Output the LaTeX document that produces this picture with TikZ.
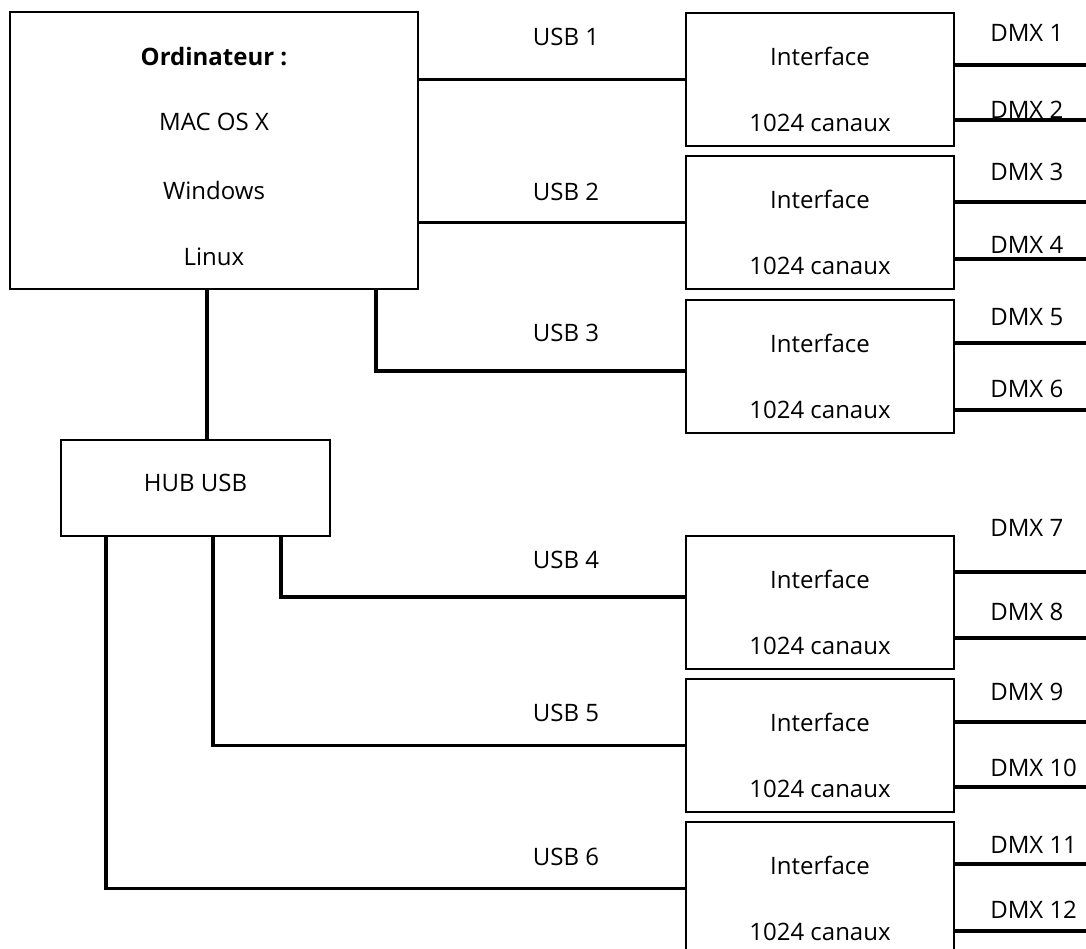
\documentclass[tikz,border=0pt]{standalone}
\usepackage{fontspec}
\setmainfont{Open Sans}
\usetikzlibrary{positioning}
\newcommand\taille{\fontsize{18}{21}\selectfont}

\begin{document}
\begin{tikzpicture}[x=0.75pt,y=-0.75pt,
		boite/.style={draw,line width=1.2pt,inner sep=0pt,minimum width=201pt,minimum height=99.75pt},
		cable/.style={line width=2.6pt},
		texte/.style={font=\taille,inner sep=0pt}]
	\useasboundingbox (0,0) rectangle (1086,949);
	% ordinateur et hub
	\node[boite,minimum width=306pt,minimum height=207.75pt] (ordi) at (214,150.5) {};
	\node[texte,font=\taille\bfseries] (ordi1) at ([yshift=-33.75pt]ordi.north) {Ordinateur :};
	\node[texte] (ordi2) at ([yshift=-83.25pt]ordi.north) {MAC OS X};
	\node[texte] (ordi3) at ([yshift=-134.25pt]ordi.north) {Windows};
	\node[texte] (ordi4) at ([yshift=-184.5pt]ordi.north) {Linux};
	\node[boite,minimum width=201.75pt,minimum height=72pt] (hub) at (195.5,488) {};
	\node[texte] (hubt) at ([yshift=3.75pt]hub.center) {HUB USB};
	% interfaces
	\foreach \n/\y in {1/79.5,2/222.5,3/366.5,4/602.5,5/745.5,6/888.5}{
		\node[boite] (if\n) at (820,\y) {};
		\node[texte] (if\n a) at ([yshift=-33pt]if\n.north) {Interface};
		\node[texte] (if\n b) at ([yshift=-83.25pt]if\n.north) {1024 canaux};
	}
	% liaisons USB
	\coordinate (h0) at ([xshift=8.6pt]hub.north);
	\draw[cable] (h0) -- (h0 |- ordi.south);
	\draw[cable] (ordi.east |- if1.west) -- (if1.west);
	\draw[cable] (ordi.east |- if2.west) -- (if2.west);
	\draw[cable] ([xshift=-32.25pt]ordi.south east) |- ([yshift=-3.4pt]if3.west);
	\draw[cable] ([xshift=165.75pt]hub.south west) |- ([yshift=4.1pt]if4.west);
	\draw[cable] ([xshift=114.75pt]hub.south west) |- (if5.west);
	\draw[cable] ([xshift=34.5pt]hub.south west) |- (if6.west);
	\foreach \n/\y in {1/37,2/192,3/333,4/560,5/713,6/857}
		\node[texte] (usb\n) at (566,\y) {USB \n};
	% sorties DMX
	\foreach \n/\b/\y/\ly in {1/1/65/33,2/1/120/110,3/2/202/172,4/2/259/245,5/3/343/317,6/3/410/389,
		7/4/572/528,8/4/638/612,9/5/722/692,10/5/787/768,11/6/864/845,12/6/931/910}{
		\coordinate (d\n) at (1086,\y);
		\draw[cable] (if\b.east |- d\n) -- (d\n);
		\node[texte,anchor=west] (dmx\n) at (990,\ly) {DMX \n};
	}
\end{tikzpicture}
\end{document}
